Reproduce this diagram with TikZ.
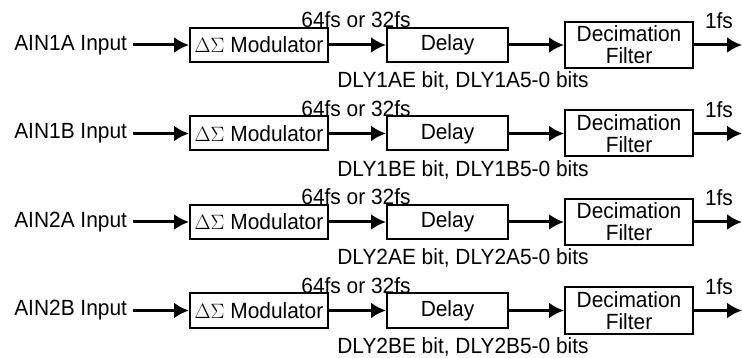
\documentclass[tikz,border=0pt]{standalone}
\usepackage{fontspec}
\setmainfont{Liberation Sans}[FakeStretch=0.95]
\usetikzlibrary{arrows.meta}
\tikzset{>=latex}

\begin{document}
\begin{tikzpicture}[
    x=1pt, y=-1pt,
    font=\fontsize{22}{26}\selectfont,
    block/.style={
        draw, line width=2pt, inner sep=0pt, align=center
    },
    inlabel/.style={inner sep=3pt, outer sep=3pt, anchor=east},
    rate/.style={inner sep=0pt, anchor=base},
    conn/.style={-{Latex[length=15pt,width=16pt]}, line width=3pt},
]
\useasboundingbox (0,0) rectangle (742,358);

% One channel per row
\foreach \ch [count=\i from 0] in {1A,1B,2A,2B} {
    \pgfmathsetmacro{\yy}{45+88.5*\i}

    % Blocks
    \node[inlabel] (in\i) at (133,\yy) {AIN\ch\ Input};
    \node[block, minimum width=138pt, minimum height=34pt] (mod\i) at (259,\yy)
        {$\Delta\Sigma$ Modulator};
    \node[block, minimum width=121pt, minimum height=34pt] (dly\i) at (447.5,\yy)
        {Delay};
    \node[block, minimum width=128pt, minimum height=46pt,
          font=\fontsize{22}{22}\selectfont] (dec\i) at (629,\yy)
        {Decimation\\Filter};
    \coordinate (out\i) at (742,\yy);

    % Connections
    \draw[conn] (in\i.east)  -- (mod\i.west);
    \draw[conn] (mod\i.east) -- (dly\i.west);
    \draw[conn] (dly\i.east) -- (dec\i.west);
    \draw[conn] (dec\i.east) -- (out\i);

    % Rates and register bits
    \node[rate] (clk\i)  at (356,\yy-17) {64fs or 32fs};
    \node[rate] (bits\i) at (463,\yy+43) {DLY\ch E bit, DLY\ch 5-0 bits};
    \node[rate] (fs\i)   at (719,\yy-16) {1fs};
}

\end{tikzpicture}
\end{document}
